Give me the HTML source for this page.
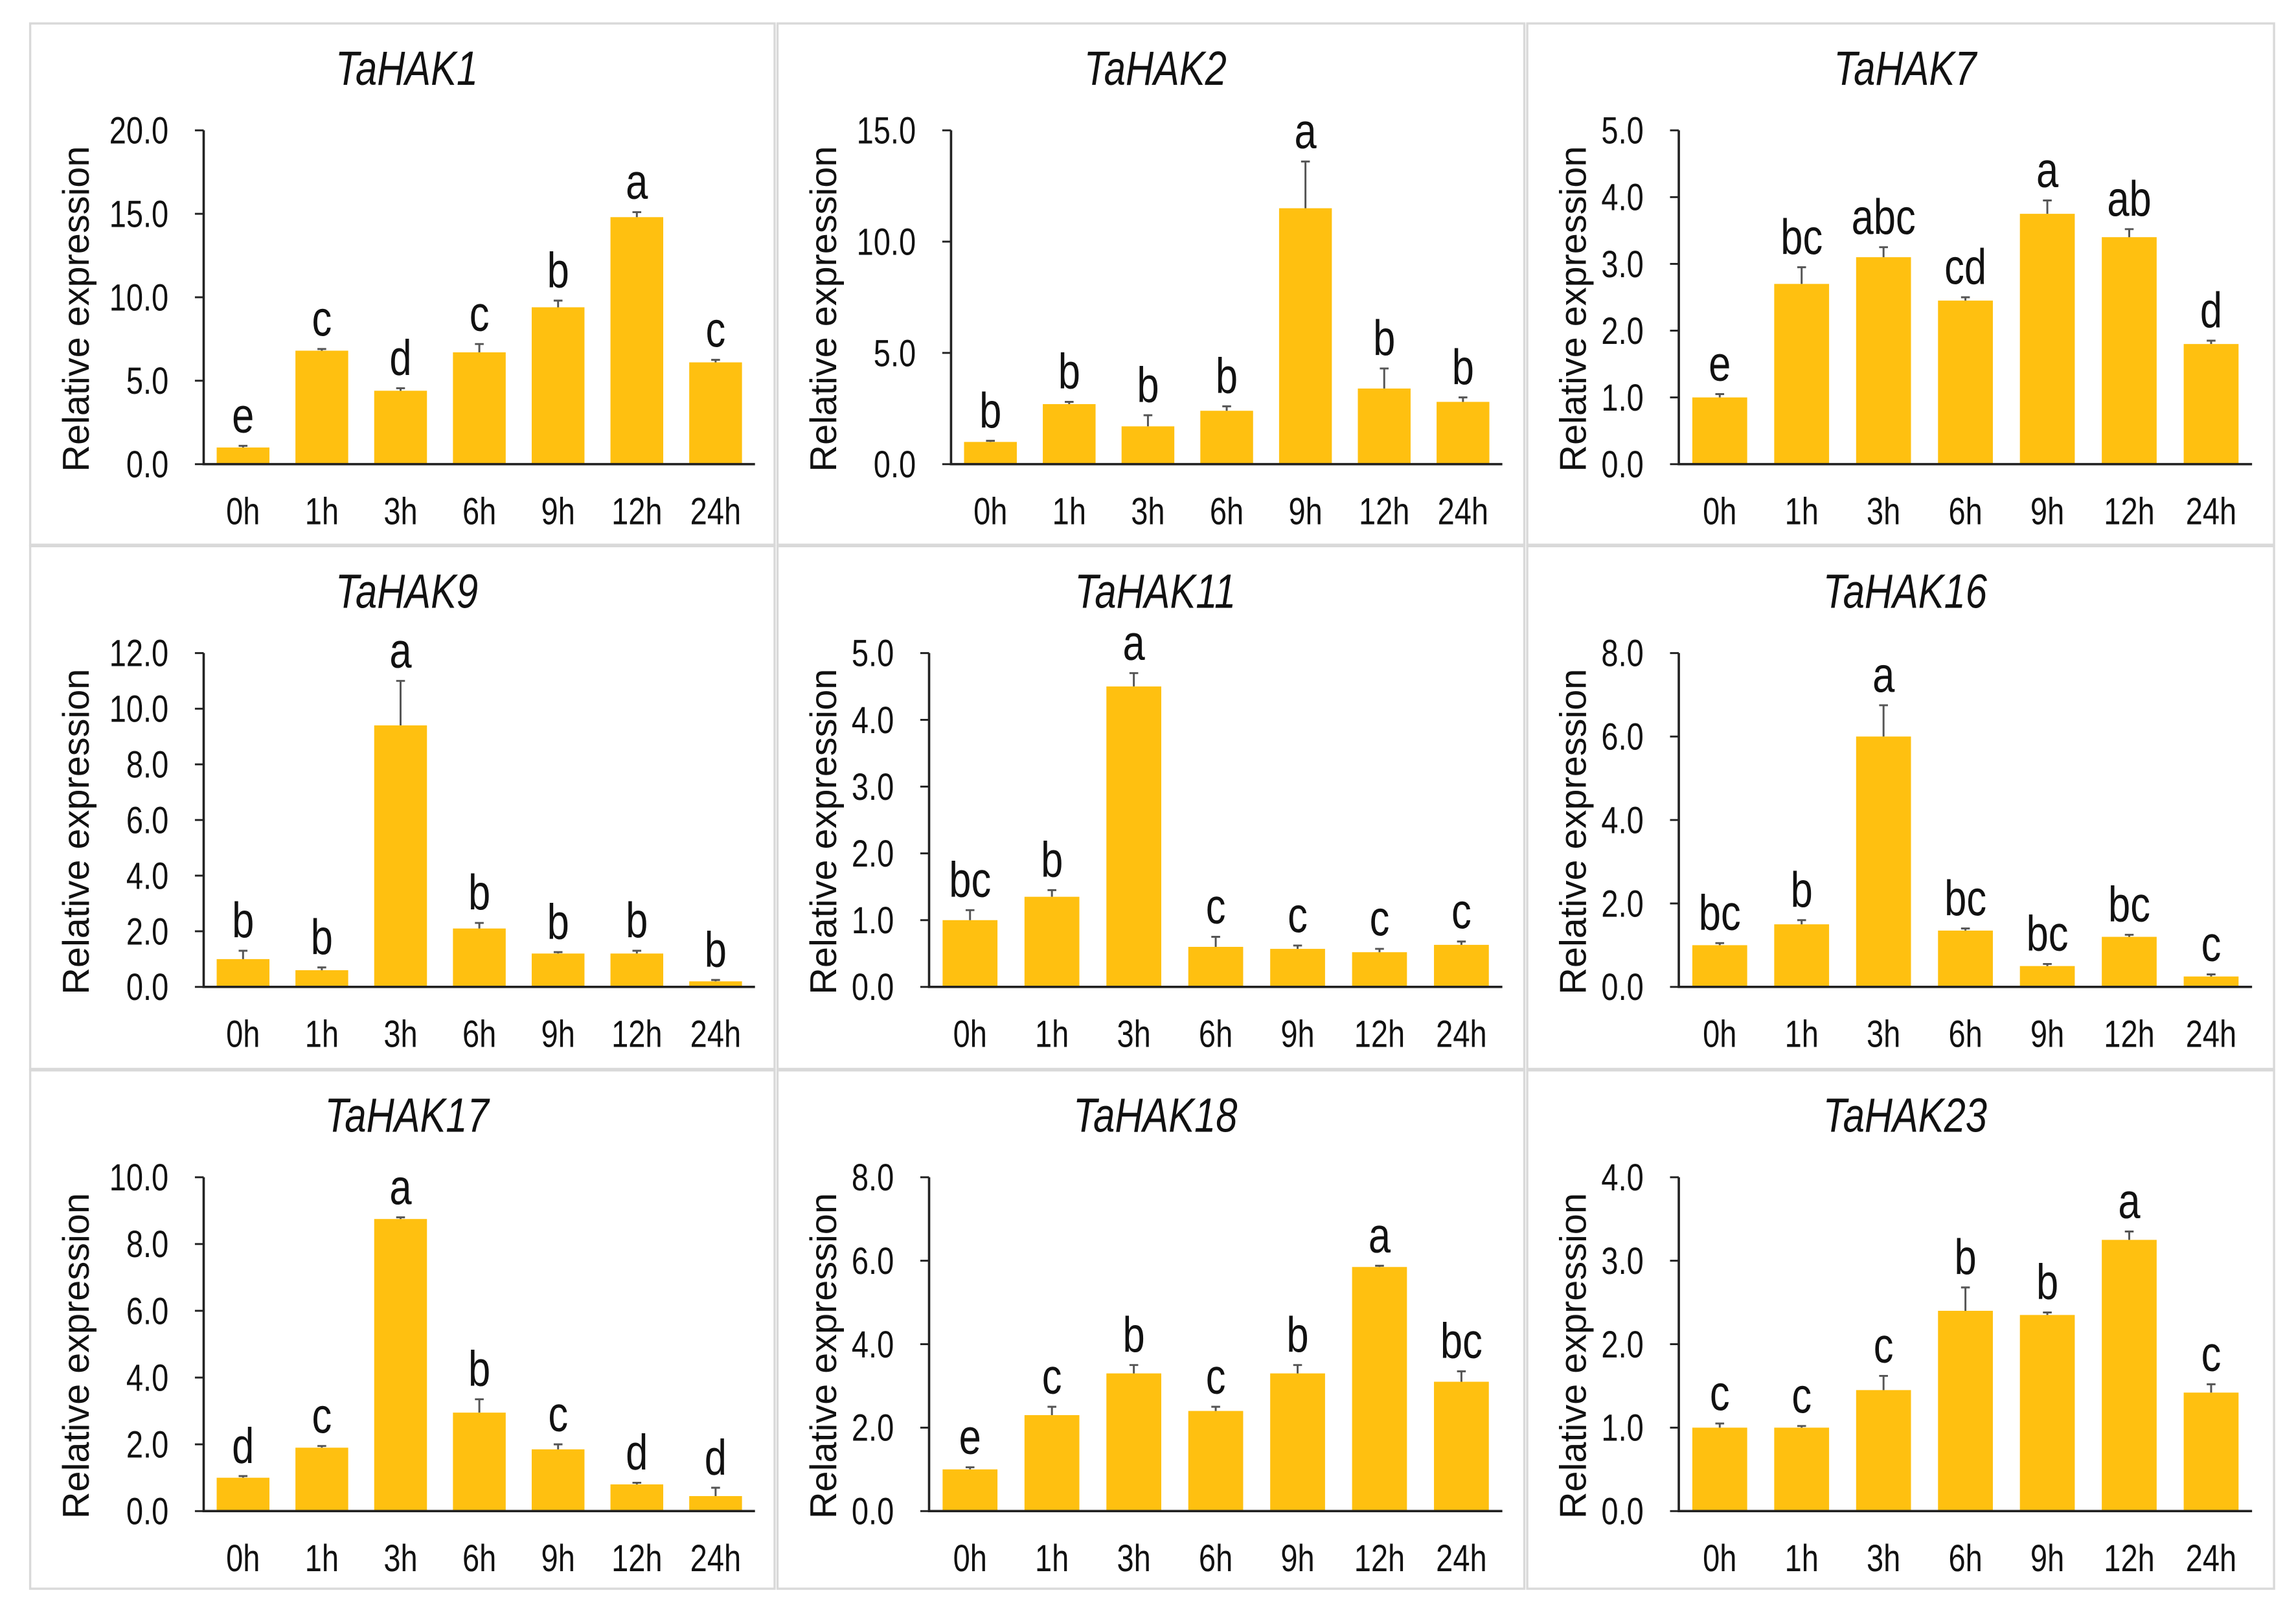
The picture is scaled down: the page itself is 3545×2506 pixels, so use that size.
<!DOCTYPE html>
<html><head><meta charset="utf-8">
<style>
html,body{margin:0;padding:0;background:#fff;width:3545px;height:2506px;overflow:hidden}
svg{display:block}
text{font-family:"Liberation Sans",sans-serif;fill:#111}
</style></head>
<body>
<svg id="chart" width="3545" height="2506" viewBox="0 0 1568 1108.4" xmlns="http://www.w3.org/2000/svg"></svg>
<script>
const categories = ["0h","1h","3h","6h","9h","12h","24h"];
const titles = ["TaHAK1","TaHAK2","TaHAK7","TaHAK9","TaHAK11","TaHAK16","TaHAK17","TaHAK18","TaHAK23"];
const yMax = [20,15,5,12,5,8,10,8,4];
const yStep = [5,5,1,2,1,2,2,2,1];
const values1 = [1.0,6.8,4.4,6.7,9.4,14.8,6.1];
const values2 = [1.0,2.7,1.7,2.4,11.5,3.4,2.8];
const values3 = [1.0,2.7,3.1,2.45,3.75,3.4,1.8];
const values4 = [1.0,0.6,9.4,2.1,1.2,1.2,0.2];
const values5 = [1.0,1.35,4.5,0.6,0.57,0.52,0.63];
const values6 = [1.0,1.5,6.0,1.35,0.5,1.2,0.25];
const values7 = [1.0,1.9,8.75,2.95,1.85,0.8,0.45];
const values8 = [1.0,2.3,3.3,2.4,3.3,5.85,3.1];
const values9 = [1.0,1.0,1.45,2.4,2.35,3.25,1.42];
const errors1 = [0.1,0.1,0.15,0.5,0.4,0.3,0.15];
const errors2 = [0.05,0.1,0.5,0.2,2.1,0.9,0.2];
const errors3 = [0.05,0.25,0.15,0.05,0.2,0.12,0.05];
const errors4 = [0.3,0.1,1.6,0.2,0.05,0.1,0.05];
const errors5 = [0.15,0.1,0.2,0.15,0.05,0.05,0.05];
const errors6 = [0.05,0.1,0.75,0.05,0.05,0.05,0.05];
const errors7 = [0.05,0.05,0.05,0.4,0.15,0.05,0.25];
const errors8 = [0.05,0.2,0.2,0.1,0.2,0.03,0.25];
const errors9 = [0.05,0.02,0.17,0.28,0.03,0.1,0.1];
const letters1 = ["e","c","d","c","b","a","c"];
const letters2 = ["b","b","b","b","a","b","b"];
const letters3 = ["e","bc","abc","cd","a","ab","d"];
const letters4 = ["b","b","a","b","b","b","b"];
const letters5 = ["bc","b","a","c","c","c","c"];
const letters6 = ["bc","b","a","bc","bc","bc","c"];
const letters7 = ["d","c","a","b","c","d","d"];
const letters8 = ["e","c","b","c","b","a","bc"];
const letters9 = ["c","c","c","b","b","a","c"];

const allValues=[values1,values2,values3,values4,values5,values6,values7,values8,values9];
const allErrors=[errors1,errors2,errors3,errors4,errors5,errors6,errors7,errors8,errors9];
const allLetters=[letters1,letters2,letters3,letters4,letters5,letters6,letters7,letters8,letters9];

const NS="http://www.w3.org/2000/svg";
const svg=document.getElementById('chart');
function mk(tag,attrs,parent,txt){const e=document.createElementNS(NS,tag);for(const k in attrs)e.setAttribute(k,attrs[k]);if(txt!==undefined)e.textContent=txt;parent.appendChild(e);return e;}
function ctext(x,y,anchor,size,parent,txt,extra){
  const a={x:0,y:0,'text-anchor':anchor,'font-size':size,transform:`translate(${x},${y}) scale(0.8,1)`};
  if(extra)for(const k in extra)a[k]=extra[k];
  return mk('text',a,parent,txt);
}

const colX=[20.6,531,1043], colW=[508.4,510,510];
const rowY=[16,373,731], rowH=[356,357,354];

for(let p=0;p<9;p++){
  const r=Math.floor(p/3), c=p%3;
  const px=colX[c], py=rowY[r];
  const g=mk('g',{},svg);
  
  
  const border=mk('rect',{x:px,y:py,width:colW[c],height:rowH[r],fill:'none',stroke:'#d9d9d9','stroke-width':1.5},g);
  
  
  const twoDigit = yMax[p]>=10;
  const ax = px + (twoDigit?118.5:103.5);
  const axR = px + 495;
  const yTop = py+73, y0 = py+301;
  const ys = v => y0 - v/yMax[p]*(y0-yTop);
  const band=(axR-ax)/7;
  const xs = i => ax + band*(i+0.5);
  const t=ctext(px+colW[c]/2+3,py+42,'middle',33,g,titles[p],{'font-style':'italic'});
  
  
  const yl=mk('text',{x:0,y:0,'text-anchor':'middle','font-size':25.5,transform:`translate(${px+40},${py+195}) rotate(-90)`},g,'Relative expression');
  
  
  for(let v=0;v<=yMax[p]+1e-9;v+=yStep[p]){
    const y=ys(v);
    const tk=mk('line',{x1:ax-6,x2:ax,y1:y,y2:y,stroke:'#222','stroke-width':1.3},g);
    
    
    const tl=ctext(ax-24,y+9,'end',26,g,v.toFixed(1));
    
    
  }
  const vals=allValues[p], errs=allErrors[p], lets=allLetters[p];
  const bw=band*0.67;
  for(let i=0;i<7;i++){
    const b=mk('rect',{x:xs(i)-bw/2,y:ys(vals[i]),width:bw,height:y0-ys(vals[i]),fill:'#FFC010'},g);
    
    
    const et=ys(vals[i]+errs[i]), eb=ys(vals[i]);
    const e=mk('path',{d:`M${xs(i)},${eb}V${et}M${xs(i)-3},${et}H${xs(i)+3}`,stroke:'#555','stroke-width':1.3,fill:'none'},g);
    
    
    const lt=ctext(xs(i),et-9,'middle',34,g,lets[i]);
    
    
    const xl=ctext(xs(i),py+342,'middle',26,g,categories[i]);
    
    
  }
  const axes=mk('path',{d:`M${ax},${yTop}V${y0}H${axR}`,stroke:'#222','stroke-width':1.6,fill:'none'},g);
  
  
}
</script>
</body></html>
